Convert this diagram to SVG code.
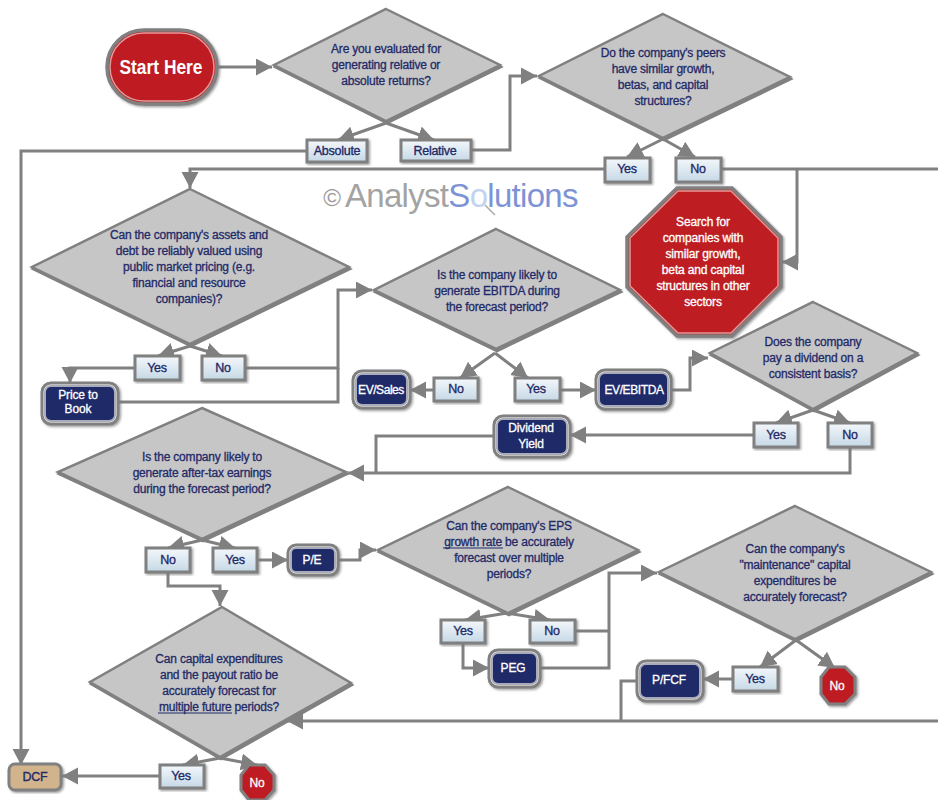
<svg xmlns="http://www.w3.org/2000/svg" width="938" height="800" viewBox="0 0 938 800">
<style>
text{font-family:"Liberation Sans",Arial,sans-serif;text-anchor:middle}
.q{font-size:12px;fill:#1f2a68;stroke:#1f2a68;stroke-width:.3;letter-spacing:-.2px}
.l{font-size:12.5px;fill:#1f2a68;stroke:#1f2a68;stroke-width:.35;letter-spacing:-.25px}
.w{font-size:12px;fill:#fff;stroke:#fff;stroke-width:.3;letter-spacing:-.15px}
.d{fill:#c6c6c6;stroke:#808080;stroke-width:2.5;filter:url(#t)}
.b{fill:url(#g);stroke:#808080;stroke-width:3;filter:url(#s)}
.n{fill:#1f2a68;stroke:#a9acb8;stroke-width:2}
.o{fill:#fff;stroke:#808080;stroke-width:3;filter:url(#s)}
.r{fill:#be1e22;stroke:#e09a9a;stroke-width:1.5}
.c{fill:none;stroke:#808080;stroke-width:3}
.a{marker-end:url(#m)}
.u{stroke:#1f2a68;stroke-width:1}
</style>
<defs>
<linearGradient id="g" x1="0" y1="0" x2="0" y2="1"><stop offset="0" stop-color="#f4f8fb"/><stop offset="1" stop-color="#c5d8e6"/></linearGradient>
<filter id="s" x="-10%" y="-10%" width="125%" height="125%"><feDropShadow dx="1.5" dy="1.5" stdDeviation="1" flood-color="#777" flood-opacity=".7"/></filter>
<filter id="t" x="-5%" y="-5%" width="112%" height="112%"><feDropShadow dx="1" dy="2" stdDeviation=".4" flood-color="#808080" flood-opacity="1"/></filter>
<marker id="m" markerUnits="userSpaceOnUse" markerWidth="18" markerHeight="18" refX="16" refY="8.5" orient="auto"><path d="M0 0L16 8.5L0 17Z" fill="#808080"/></marker>
</defs>
<g id="connectors">
<path class="c a" d="M218 67H272"/>
<path class="c a" d="M386 123L338 140"/>
<path class="c a" d="M386 123L434 140"/>
<path class="c a" d="M470 150H510V76H537"/>
<path class="c a" d="M307 151H21V765"/>
<path class="c a" d="M663 139L627 157"/>
<path class="c a" d="M663 139L695 157"/>
<path class="c a" d="M605 169H190V188"/>
<path class="c" d="M722 169H938"/>
<path class="c a" d="M797 169V262H782"/>
<path class="c a" d="M190 346L158 356"/>
<path class="c a" d="M190 346L222 356"/>
<path class="c a" d="M135 368H70V383"/>
<path class="c a" d="M245 368H338V290H372"/>
<path class="c" d="M118 402H338V368"/>
<path class="c a" d="M495 353L460 378"/>
<path class="c a" d="M495 353L528 378"/>
<path class="c a" d="M434 390H410"/>
<path class="c a" d="M560 390H596"/>
<path class="c a" d="M671 390H690V358H708"/>
<path class="c a" d="M813 410L776 423"/>
<path class="c a" d="M813 410L850 423"/>
<path class="c a" d="M754 435H570"/>
<path class="c a" d="M850 447V473H348"/>
<path class="c" d="M494 436H376V473"/>
<path class="c a" d="M202 540L168 548"/>
<path class="c a" d="M202 540L235 548"/>
<path class="c a" d="M257 560H288"/>
<path class="c a" d="M338 560H360V550H376"/>
<path class="c a" d="M168 572V586H220V606"/>
<path class="c a" d="M507 613L465 620"/>
<path class="c a" d="M507 613L550 620"/>
<path class="c a" d="M463 643V668H489"/>
<path class="c" d="M575 631H609"/>
<path class="c a" d="M540 668H609V573H657"/>
<path class="c a" d="M796 640L760 667"/>
<path class="c a" d="M796 640L835 668"/>
<path class="c a" d="M733 679H703"/>
<path class="c" d="M637 681H621V721"/>
<path class="c a" d="M938 721H287"/>
<path class="c a" d="M220 758L183 765"/>
<path class="c a" d="M220 758L257 765"/>
<path class="c a" d="M160 776H62"/>
</g>
<g id="watermark">
<text x="332" y="206" font-size="24" style="fill:#9a9a9a">©</text>
<text x="345" y="207" font-size="33" style="text-anchor:start;fill:#a3a3a3;letter-spacing:-.7px">Analyst<tspan fill="#7d93d6">S</tspan><tspan fill="#c3d3ee">o</tspan><tspan fill="#7d93d6">lutions</tspan></text>
<path d="M485 205L495 215" stroke="#aaa" stroke-width="1.5"/>
</g>
<g id="start"><rect x="107" y="30" width="110" height="74" rx="37" fill="#be1e22" stroke="#808080" stroke-width="3.5" filter="url(#s)"/><rect x="110" y="33" width="104" height="68" rx="34" fill="none" stroke="#e09a9a" stroke-width="1.5"/><text x="161" y="74" font-size="20" font-weight="bold" fill="#fff" textLength="83" lengthAdjust="spacingAndGlyphs">Start Here</text></g>
<g id="q1"><polygon class="d" points="386,9 500,65 386,121 274,65"/><text class="q" x="386" y="53">Are you evaluated for</text><text class="q" x="386" y="69">generating relative or</text><text class="q" x="386" y="85">absolute returns?</text></g>
<g id="q2"><polygon class="d" points="663,14 790,77 663,138 539,76"/><text class="q" x="663" y="57">Do the company's peers</text><text class="q" x="663" y="73">have similar growth,</text><text class="q" x="663" y="89">betas, and capital</text><text class="q" x="663" y="105">structures?</text></g>
<g id="q3"><polygon class="d" points="190,189 349,267 190,344 32,267"/><text class="q" x="189" y="239">Can the company's assets and</text><text class="q" x="189" y="255">debt be reliably valued using</text><text class="q" x="189" y="271">public market pricing (e.g.</text><text class="q" x="189" y="287">financial and resource</text><text class="q" x="189" y="303">companies)?</text></g>
<g id="q4"><polygon class="d" points="496,229 620,290 496,349 374,290"/><text class="q" x="497" y="279">Is the company likely to</text><text class="q" x="497" y="295">generate EBITDA during</text><text class="q" x="497" y="311">the forecast period?</text></g>
<g id="q5"><polygon class="d" points="813,302 917,353 813,409 710,353"/><text class="q" x="813" y="346">Does the company</text><text class="q" x="813" y="362">pay a dividend on a</text><text class="q" x="813" y="378">consistent basis?</text></g>
<g id="q6"><polygon class="d" points="202,408 346,472 202,539 58,472"/><text class="q" x="202" y="461">Is the company likely to</text><text class="q" x="202" y="477">generate after-tax earnings</text><text class="q" x="202" y="493">during the forecast period?</text></g>
<g id="q7"><polygon class="d" points="508,487 638,550 508,613 378,550"/><text class="q" x="509" y="530">Can the company's EPS</text><text class="q" x="509" y="546">growth rate be accurately</text><path class="u" d="M443 548H503"/><text class="q" x="509" y="562">forecast over multiple</text><text class="q" x="509" y="578">periods?</text></g>
<g id="q8"><polygon class="d" points="795,506 931,572 795,639 659,572"/><text class="q" x="795" y="553">Can the company's</text><text class="q" x="795" y="569">"maintenance" capital</text><text class="q" x="795" y="585">expenditures be</text><text class="q" x="795" y="601">accurately forecast?</text></g>
<g id="q9"><polygon class="d" points="222,607 351,683 220,757 90,682"/><text class="q" x="219" y="663">Can capital expenditures</text><text class="q" x="219" y="679">and the payout ratio be</text><text class="q" x="219" y="695">accurately forecast for</text><text class="q" x="219" y="711">multiple future periods?</text><path class="u" d="M158 713H232"/></g>
<g id="stop1"><polygon points="677,188 732,188 781,237 781,287 732,336 677,336 627,287 627,237" fill="#be1e22" stroke="#808080" stroke-width="3.5" filter="url(#s)"/><polygon class="r" points="678,191 731,191 778,238 778,286 731,333 678,333 630,286 630,238"/>
<text class="w" x="703" y="226">Search for</text><text class="w" x="703" y="242">companies with</text><text class="w" x="703" y="258">similar growth,</text><text class="w" x="703" y="274">beta and capital</text><text class="w" x="703" y="290">structures in other</text><text class="w" x="703" y="306">sectors</text></g>
<g id="absolute"><rect class="b" x="307" y="140" width="60" height="22"/><text class="l" x="337" y="155">Absolute</text></g>
<g id="relative"><rect class="b" x="401" y="140" width="70" height="21"/><text class="l" x="435" y="155">Relative</text></g>
<g id="yes1"><rect class="b" x="605" y="158" width="45" height="24"/><text class="l" x="627" y="173">Yes</text></g>
<g id="no1"><rect class="b" x="676" y="158" width="45" height="24"/><text class="l" x="698" y="173">No</text></g>
<g id="yes2"><rect class="b" x="135" y="356" width="45" height="24"/><text class="l" x="157" y="372">Yes</text></g>
<g id="no2"><rect class="b" x="202" y="356" width="43" height="24"/><text class="l" x="223" y="372">No</text></g>
<g id="no3"><rect class="b" x="434" y="378" width="44" height="23"/><text class="l" x="456" y="393">No</text></g>
<g id="yes3"><rect class="b" x="515" y="378" width="45" height="23"/><text class="l" x="536" y="393">Yes</text></g>
<g id="yes4"><rect class="b" x="754" y="423" width="44" height="24"/><text class="l" x="776" y="439">Yes</text></g>
<g id="no4"><rect class="b" x="828" y="423" width="44" height="24"/><text class="l" x="850" y="439">No</text></g>
<g id="no5"><rect class="b" x="146" y="548" width="44" height="24"/><text class="l" x="168" y="564">No</text></g>
<g id="yes5"><rect class="b" x="213" y="548" width="44" height="24"/><text class="l" x="235" y="564">Yes</text></g>
<g id="yes6"><rect class="b" x="441" y="620" width="44" height="23"/><text class="l" x="463" y="635">Yes</text></g>
<g id="no6"><rect class="b" x="530" y="620" width="45" height="23"/><text class="l" x="552" y="635">No</text></g>
<g id="yes7"><rect class="b" x="733" y="667" width="45" height="24"/><text class="l" x="755" y="683">Yes</text></g>
<g id="yes8"><rect class="b" x="160" y="765" width="44" height="23"/><text class="l" x="181" y="780">Yes</text></g>
<g id="pb"><rect class="o" x="42" y="383" width="76" height="41" rx="9"/><rect class="n" x="45" y="386" width="70" height="35" rx="6"/><text class="w" x="78" y="399">Price to</text><text class="w" x="78" y="413">Book</text></g>
<g id="evsales"><rect class="o" x="353" y="371" width="57" height="37" rx="9"/><rect class="n" x="356" y="374" width="51" height="31" rx="6"/><text class="w" x="381" y="394" style="letter-spacing:-.45px">EV/Sales</text></g>
<g id="evebitda"><rect class="o" x="596" y="370" width="75" height="39" rx="9"/><rect class="n" x="599" y="373" width="69" height="33" rx="6"/><text class="w" x="634" y="394" style="letter-spacing:-.4px">EV/EBITDA</text></g>
<g id="dy"><rect class="o" x="494" y="416" width="76" height="41" rx="9"/><rect class="n" x="497" y="419" width="70" height="35" rx="6"/><text class="w" x="531" y="432">Dividend</text><text class="w" x="531" y="448">Yield</text></g>
<g id="pe"><rect class="o" x="288" y="545" width="50" height="30" rx="8"/><rect class="n" x="291" y="548" width="44" height="24" rx="5"/><text class="w" x="312" y="564">P/E</text></g>
<g id="peg"><rect class="o" x="489" y="650" width="51" height="37" rx="9"/><rect class="n" x="492" y="653" width="45" height="31" rx="6"/><text class="w" x="513" y="672">PEG</text></g>
<g id="pfcf"><rect class="o" x="637" y="661" width="66" height="40" rx="9"/><rect class="n" x="640" y="664" width="60" height="34" rx="6"/><text class="w" x="669" y="684">P/FCF</text></g>
<g id="dcf"><rect class="o" x="9" y="764" width="52" height="26" rx="6" style="fill:#d2b48c"/><text class="l" x="35" y="781">DCF</text></g>
<g id="stop2"><polygon points="829,667 845,667 855,677 855,694 845,704 829,704 821,694 821,677" fill="#be1e22" stroke="#808080" stroke-width="3" filter="url(#s)"/><text class="w" x="837" y="690">No</text></g>
<g id="stop3"><polygon points="249,765 265,765 274,775 274,790 265,800 249,800 241,790 241,775" fill="#be1e22" stroke="#808080" stroke-width="3" filter="url(#s)"/><text class="w" x="257" y="787">No</text></g>
</svg>
